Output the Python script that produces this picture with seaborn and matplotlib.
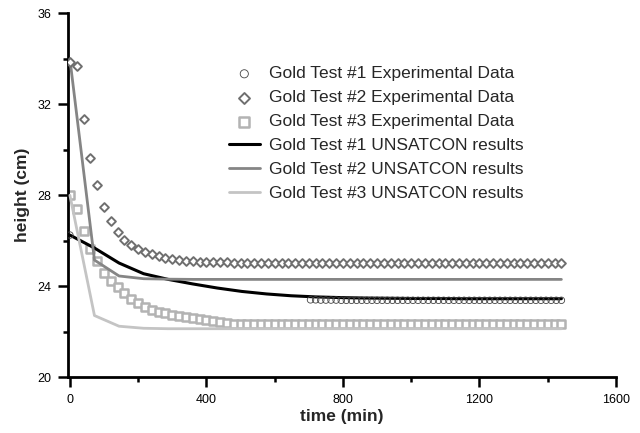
import matplotlib
matplotlib.use("Agg")
import matplotlib.pyplot as plt
from matplotlib.ticker import MultipleLocator
import seaborn as sns
import pandas as pd

sns.set_theme(style="white")
plt.rcParams['font.family'] = ['Liberation Sans', 'DejaVu Sans']

# ---- data ----
t_exp = list(range(0, 1441, 20))  # 73 sampling times (min)

test2_exp = [33.85, 33.7, 31.35, 29.65, 28.45, 27.5, 26.85, 26.4, 26.05, 25.82,
             25.63, 25.5, 25.4, 25.31, 25.24, 25.19, 25.15, 25.12, 25.1, 25.08,
             25.07, 25.06, 25.05, 25.05, 25.04, 25.04, 25.03, 25.03, 25.03, 25.02,
             25.02, 25.02, 25.02, 25.01, 25.01, 25.01, 25.01, 25.01, 25.01, 25.0,
             25.0, 25.0, 25.0, 25.0, 25.0, 25.0, 25.0, 25.0, 25.0, 25.0,
             25.0, 25.0, 25.0, 25.0, 25.0, 25.0, 25.0, 25.0, 25.0, 25.0,
             25.0, 25.0, 25.0, 25.0, 25.0, 25.0, 25.0, 25.0, 25.0, 25.0,
             25.0, 25.0, 25.0]

test3_exp = [28.0, 27.4, 26.45, 25.65, 25.1, 24.6, 24.25, 23.95, 23.7, 23.45,
             23.25, 23.1, 22.95, 22.87, 22.8, 22.74, 22.69, 22.65, 22.6, 22.56,
             22.51, 22.46, 22.41, 22.37, 22.34, 22.34, 22.34, 22.34, 22.34, 22.34,
             22.34, 22.34, 22.34, 22.34, 22.34, 22.34, 22.34, 22.34, 22.34, 22.34,
             22.34, 22.34, 22.34, 22.34, 22.34, 22.34, 22.34, 22.34, 22.34, 22.34,
             22.34, 22.34, 22.34, 22.34, 22.34, 22.34, 22.34, 22.34, 22.34, 22.34,
             22.34, 22.34, 22.34, 22.34, 22.34, 22.34, 22.34, 22.34, 22.34, 22.34,
             22.34, 22.34, 22.34]

t_test1 = [0] + list(range(705, 1441, 15))
test1_exp = [26.25,
             23.4, 23.4, 23.39, 23.39, 23.39, 23.39, 23.38, 23.38, 23.38, 23.38,
             23.38, 23.38, 23.38, 23.38, 23.38, 23.38, 23.38, 23.38, 23.38, 23.38,
             23.38, 23.38, 23.38, 23.38, 23.38, 23.38, 23.38, 23.38, 23.38, 23.38,
             23.38, 23.38, 23.38, 23.38, 23.38, 23.38, 23.38, 23.38, 23.38, 23.38,
             23.38, 23.38, 23.38, 23.38, 23.38, 23.38, 23.38, 23.38, 23.38, 23.38]

t_model = list(range(0, 1441, 72))
test1_model = [26.25, 25.68, 25.02, 24.55, 24.3, 24.1, 23.92, 23.77, 23.66, 23.58,
               23.53, 23.5, 23.48, 23.47, 23.46, 23.46, 23.45, 23.45, 23.45, 23.45, 23.45]
test2_model = [34.0, 25.15, 24.45, 24.33, 24.31, 24.3, 24.3, 24.3, 24.3, 24.3,
               24.3, 24.3, 24.3, 24.3, 24.3, 24.3, 24.3, 24.3, 24.3, 24.3, 24.3]
test3_model = [28.0, 22.71, 22.24, 22.15, 22.13, 22.13, 22.13, 22.13, 22.13, 22.13,
               22.13, 22.13, 22.13, 22.13, 22.13, 22.13, 22.13, 22.13, 22.13, 22.13, 22.13]

labels = ["Gold Test #1 Experimental Data", "Gold Test #2 Experimental Data",
          "Gold Test #3 Experimental Data", "Gold Test #1 UNSATCON results",
          "Gold Test #2 UNSATCON results", "Gold Test #3 UNSATCON results"]

x_ticks = [0, 400, 800, 1200, 1600]
y_ticks = [20, 24, 28, 32, 36]

# ---- figure ----
fig = plt.figure(figsize=(6.4, 4.33), dpi=100)
ax = fig.add_axes([0.106, 0.129, 0.8565, 0.84])

c_d = "#6f6f6f"
c_s = "#b3b3b3"

sns.lineplot(x=t_model, y=test1_model, ax=ax, color="black", lw=2.2, label=labels[3], zorder=3)
sns.lineplot(x=t_model, y=test2_model, ax=ax, color="#858585", lw=2.0, label=labels[4], zorder=3)
sns.lineplot(x=t_model, y=test3_model, ax=ax, color="#c4c4c4", lw=2.0, label=labels[5], zorder=3)

sns.scatterplot(x=t_test1, y=test1_exp, ax=ax, marker="o", s=22, facecolor="none",
                edgecolor="#444444", linewidth=0.6, label=labels[0], zorder=4)
sns.scatterplot(x=t_exp, y=test2_exp, ax=ax, marker="D", s=20, facecolor="white",
                edgecolor=c_d, linewidth=1.4, label=labels[1], zorder=4)
sns.scatterplot(x=t_exp, y=test3_exp, ax=ax, marker="s", s=36, facecolor="white",
                edgecolor=c_s, linewidth=1.8, label=labels[2], zorder=2)

handles, labs = ax.get_legend_handles_labels()
order = [labs.index(l) for l in labels]
ax.legend([handles[i] for i in order], [labs[i] for i in order],
          loc="upper right", bbox_to_anchor=(0.845, 0.874), frameon=False,
          fontsize=12.5, handlelength=1.8, handletextpad=0.55, labelspacing=0.51,
          borderaxespad=0, markerscale=1.25)

ax.set_xlim(-6, 1600)
ax.set_ylim(20, 36)
ax.set_xticks(x_ticks)
ax.set_yticks(y_ticks)
ax.xaxis.set_minor_locator(MultipleLocator(200))
ax.yaxis.set_minor_locator(MultipleLocator(2))
for s in ["top", "right"]:
    ax.spines[s].set_visible(False)
for s in ["left", "bottom"]:
    ax.spines[s].set_linewidth(2.0)
    ax.spines[s].set_color("black")
ax.tick_params(which="major", direction="out", length=7, width=1.8, colors="black",
               labelsize=9, pad=5)
ax.tick_params(which="minor", direction="out", length=3.5, width=1.8, colors="black")
ax.tick_params(axis="x", which="both", bottom=True)
ax.tick_params(axis="y", which="both", left=True)

ax.set_xlabel("time (min)", fontsize=12.5, fontweight="bold", labelpad=2)
ax.set_ylabel("height (cm)", fontsize=12.5, fontweight="bold", labelpad=5)
ax.grid(False)

fig.savefig("out.png", dpi=100)
